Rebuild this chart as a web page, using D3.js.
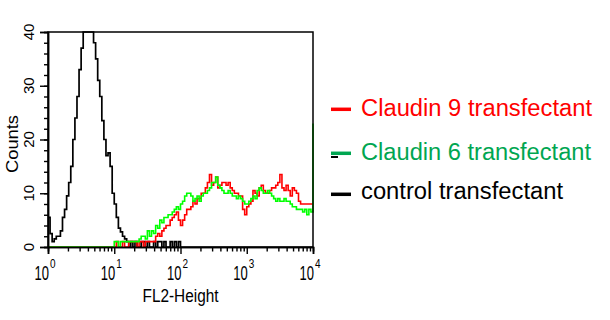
<!DOCTYPE html>
<html>
<head>
<meta charset="utf-8">
<script src="https://cdn.jsdelivr.net/npm/d3@7/dist/d3.min.js"></script>
<style>
html,body{margin:0;padding:0;background:#fff;}
svg{display:block;}
text{font-family:"Liberation Sans",Arial,sans-serif;}
</style>
</head>
<body>
<svg id="chart" width="610" height="320"></svg>
<script>
// ---- data (counts per log channel, 32 channels per decade; last entry = value at 10^4) ----
const binsPerDecade = 32;
const controlCounts = [
  5.5,2.5,1,1.5,2,2,3,5.5,7,9.5,12,15,20,24,28,33,
  37,40,40,40,40,40,38,35,31,28,23.5,20,17,17.5,15,10,
  8,5.5,3.5,2.8,2,1.5,1,0,1,0,1,0,0,1,1,0,
  1,0,0,1,0,1,1,0,1,0,0,1,0,1,0,1,
  0,0,0,0,0,0,0,0,0,0,0,0,0,0,0,0,
  0,0,0,0,0,0,0,0,0,0,0,0,0,0,0,0,
  0,0,0,0,0,0,0,0,0,0,0,0,0,0,0,0,
  0,0,0,0,0,0,0,0,0,0,0,0,0,0,0,0,
  0
];
const claudin9Counts = [
  0,0,0,0,0,0,0,0,0,0,0,0,0,0,0,0,
  0,0,0,0,0,0,0,0,0,0,0,0,0,0,0,0,
  0,1,0,0,1,0,0,1,1,1,1,0,1,1,0,1,
  1,1,1,1,2,2.5,2,3,3.5,4,4,5,5.5,6,6.5,5,
  4,5,6,7,7,7.5,8.5,8,9,9,10,10,11,12,13.5,11.5,
  12,13,11,11.5,12,12,11.5,12,11,10.5,10,10,9.5,9.5,7,6,
  7.5,8,8.5,10.5,10,9.5,11,11.5,10.5,10,10,10.5,11,11,11.5,12,
  13.5,11,10.5,11.5,10.5,9.5,11,10.5,10,8.5,8,8,8,8,8,8,
  8
];
const claudin6Counts = [
  0,0,0,0,0,0,0,0,0,0,0,0,0,0,0,0,
  0,0,0,0,0,0,0,0,0,0,0,0,0,0,0,0,
  1,1,0,1,1,1,1,1,1,1,1,1,1.5,2,2,1.5,
  3,2,3,2.5,4,3.5,5,4.5,5.5,5.5,6,6,6.5,7,7.5,7,
  8,8.5,9.5,10,10,9.5,8.5,9,9.5,8.5,9.5,10,10,10.5,11,12,
  12,13,11.5,11,10.5,10,10,10.5,10,9.5,9.5,9,9.5,9,8.5,8,
  8,8.5,9,9.5,9,10.5,11,10.5,10,10,10.5,10,9.5,9,8.5,9,
  8.5,8.5,9,8.5,8.5,8,7.5,7.5,7,7,7,6.5,7,6,7,6.5,
  23
];
const xTickExponents = [0,1,2,3,4];
const yTickValues = [0,10,20,30,40];
const legendLabels = ["Claudin 9 transfectant","Claudin 6 transfectant","control transfectant"];
const xAxisTitle = "FL2-Height";
const yAxisTitle = "Counts";

// ---- layout ----
const svg = d3.select("#chart");
const L = 48, R = 313, T = 32, B = 247;
const x = d3.scaleLog().domain([1, 1e4]).range([L, R]);
const y = d3.scaleLinear().domain([0, 40]).range([B, T]);

const toPoints = arr => arr.map((v, i) => [Math.pow(10, i / binsPerDecade), v]);
const line = d3.line().x(d => x(d[0])).y(d => y(d[1])).curve(d3.curveStepAfter);

const plot = svg.append("g");
plot.append("path").datum(toPoints(controlCounts)).attr("d", line)
  .attr("fill","none").attr("stroke","#000").attr("stroke-width",1.7);
plot.append("path").datum(toPoints(claudin9Counts)).attr("d", line)
  .attr("fill","none").attr("stroke","#ff0000").attr("stroke-width",1.6);
plot.append("path").datum(toPoints(claudin6Counts)).attr("d", line)
  .attr("fill","none").attr("stroke","#00ff00").attr("stroke-width",1.6);

// frame (left, top, right) and x baseline
svg.append("path")
  .attr("d", `M${L},${B}V${T}H${R}V${B}`)
  .attr("fill","none").attr("stroke","#000").attr("stroke-width",1.5);

// x axis with log minor ticks
const xMinor = [];
for (let e = 0; e < 4; e++) for (let m = 2; m <= 9; m++) xMinor.push(m * Math.pow(10, e));
const xAxisMinor = d3.axisBottom(x).tickValues(xMinor).tickSize(4.5).tickFormat("");
const xAxisMajor = d3.axisBottom(x).tickValues(xTickExponents.map(e => Math.pow(10, e))).tickSize(7).tickFormat("");
const gxm = svg.append("g").attr("transform", `translate(0,${B})`).call(xAxisMinor);
const gxM = svg.append("g").attr("transform", `translate(0,${B})`).call(xAxisMajor);
[gxm, gxM].forEach(g => { g.select(".domain").attr("stroke","#000").attr("stroke-width",1.6);
  g.selectAll(".tick line").attr("stroke","#000").attr("stroke-width",1.4); });

// x tick labels 10^n
const xl = svg.append("g").selectAll("g").data(xTickExponents).join("g")
  .attr("transform", e => `translate(${x(Math.pow(10, e))},0)`);
xl.append("text").attr("transform","translate(1,279.5) scale(1,1.5)")
  .attr("text-anchor","end").attr("font-size",13).attr("fill","#000").text("10");
xl.append("text").attr("transform","translate(2,268) scale(1,1.3)")
  .attr("text-anchor","start").attr("font-size",10).attr("fill","#000").text(e => e);

// y axis
const yMinor = d3.range(0, 41, 2);
const gym = svg.append("g").attr("transform", `translate(${L},0)`)
  .call(d3.axisLeft(y).tickValues(yMinor).tickSize(4).tickFormat(""));
const gyM = svg.append("g").attr("transform", `translate(${L},0)`)
  .call(d3.axisLeft(y).tickValues(yTickValues).tickSize(8).tickFormat(""));
[gym, gyM].forEach(g => { g.select(".domain").attr("stroke","#000").attr("stroke-width",1.5);
  g.selectAll(".tick line").attr("stroke","#000").attr("stroke-width",1.4); });
svg.append("g").selectAll("text").data(yTickValues).join("text")
  .attr("transform", v => `translate(33.5,${y(v)}) rotate(-90)`)
  .attr("text-anchor","middle").attr("font-size",15).attr("fill","#000").text(v => v);

// axis titles
svg.append("text").attr("transform", `translate(${x(100)},302) scale(1,1.12)`)
  .attr("text-anchor","middle").attr("font-size",16).attr("textLength",76)
  .attr("lengthAdjust","spacingAndGlyphs").attr("fill","#000").text(xAxisTitle);
svg.append("text").attr("transform","translate(18,144) rotate(-90)")
  .attr("text-anchor","middle").attr("font-size",16).attr("textLength",58)
  .attr("lengthAdjust","spacingAndGlyphs").attr("fill","#000").text(yAxisTitle);

// legend
const legendColors = ["#ff0000","#00a651","#000000"];
const legendBase = [116, 160, 199];
const legendMark = [109.3, 153.3, 194.3];
const legendLen = [231, 230, 202];
const lg = svg.append("g");
legendLabels.forEach((t, i) => {
  lg.append("line").attr("x1",331).attr("x2",351).attr("y1",legendMark[i]).attr("y2",legendMark[i])
    .attr("stroke",legendColors[i]).attr("stroke-width",3.5);
  lg.append("text").attr("x",361).attr("y",legendBase[i]).attr("font-size",23.5)
    .attr("textLength",legendLen[i]).attr("lengthAdjust","spacingAndGlyphs")
    .attr("fill",legendColors[i]).text(t);
});
lg.append("line").attr("x1",331).attr("x2",338).attr("y1",157).attr("y2",157)
  .attr("stroke","#000").attr("stroke-width",2);
</script>
</body>
</html>
